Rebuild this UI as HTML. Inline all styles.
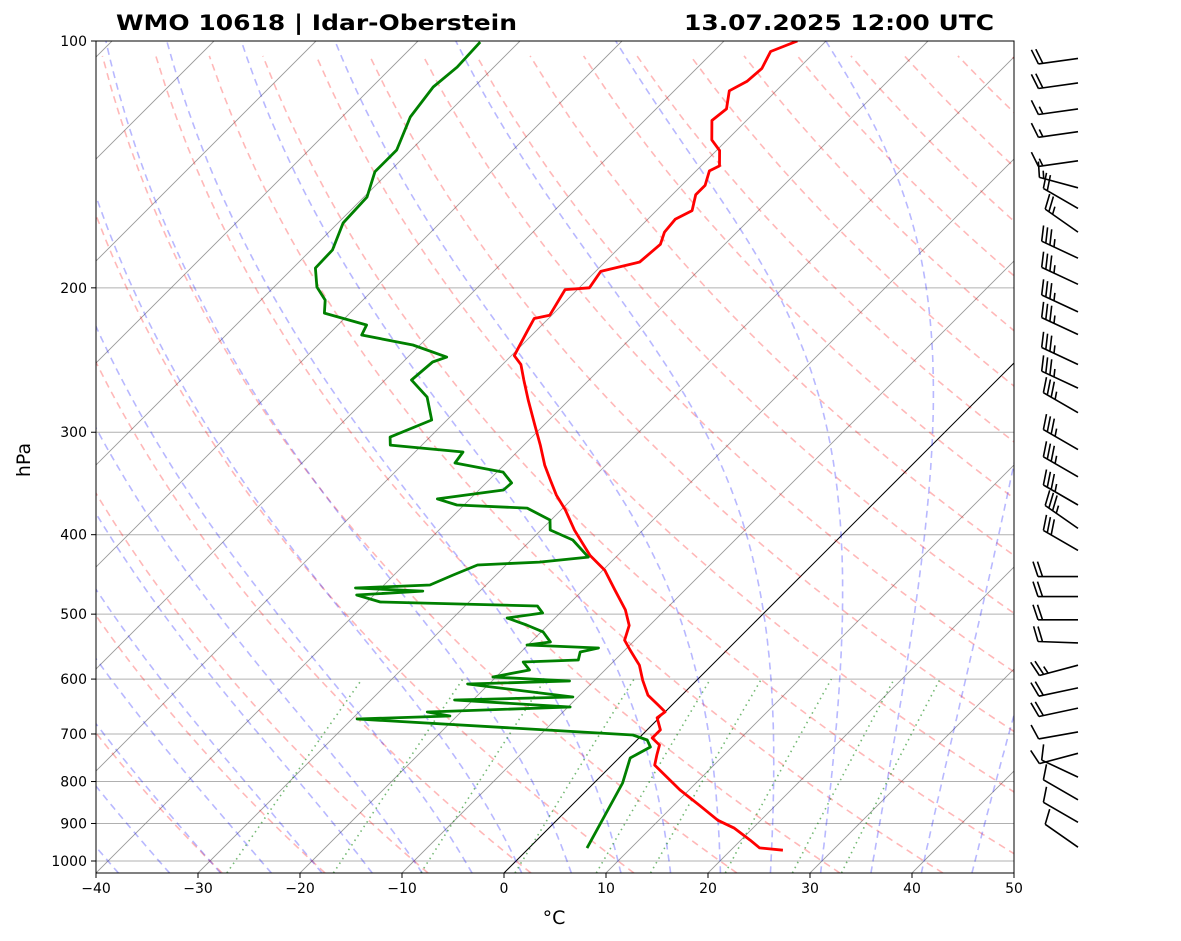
<!DOCTYPE html>
<html><head><meta charset="utf-8">
<style>
html,body{margin:0;padding:0;background:#fff;}
svg{display:block;font-family:"DejaVu Sans","Liberation Sans",sans-serif;}
</style></head>
<body>
<svg id="chart" width="1181" height="941" viewBox="0 0 1181 941" xmlns="http://www.w3.org/2000/svg">
<defs><clipPath id="plotclip"><rect x="96" y="41" width="918" height="832"/></clipPath></defs>
<rect x="0" y="0" width="1181" height="941" fill="#fff"/>
<g id="bg" clip-path="url(#plotclip)"></g>
<g id="profiles" clip-path="url(#plotclip)"></g>
<rect x="96" y="41" width="918" height="832" fill="none" stroke="#000" stroke-width="1"/>
<g id="axes"></g>
<g id="barbs"></g>
<text x="116" y="30" font-size="21" font-weight="bold" textLength="401" lengthAdjust="spacingAndGlyphs">WMO 10618 | Idar-Oberstein</text>
<text x="684" y="30" font-size="21" font-weight="bold" textLength="310" lengthAdjust="spacingAndGlyphs">13.07.2025 12:00 UTC</text>
<text x="30" y="460" font-size="19" text-anchor="middle" transform="rotate(-90 30 460)">hPa</text>
<text x="554" y="924" font-size="19" text-anchor="middle">°C</text>
</svg>
<script>
// ---- data ----
const tempP = [970,964,943,912,892,855,819,786,764,742,722,708,692,669,658,645,628,602,577,553,538,516,494,467,442,424,395,373,358,343,329,311,294,274,259,248,242,235,225,218,216,201,200,191,186,177,171,165,161,154,150,144,142,136,132,125,121,115,112,108,103,100];
const tempT = [25.1,22.6,20.9,18.2,15.8,12.5,9.1,6.2,4.2,3.4,2.7,1.3,1.3,-0.2,0.0,-1.4,-3.3,-5.3,-7.1,-9.5,-11.0,-12.0,-13.9,-16.9,-19.8,-22.7,-26.7,-29.6,-31.9,-34.0,-36.0,-38.4,-40.9,-44.0,-46.4,-48.2,-49.7,-50.2,-50.9,-51.4,-50.2,-51.2,-49.0,-49.5,-46.6,-46.3,-47.1,-47.3,-46.5,-47.7,-47.7,-48.7,-48.2,-49.7,-51.5,-53.4,-53.1,-54.6,-53.8,-53.6,-54.4,-52.8];
const dewP = [100.3,107.6,113.8,123.8,135.8,144.4,155.0,166.7,179.8,189.2,199.5,207,214.7,222,228.3,234.8,242.9,246.3,259.1,271.8,289.9,304.1,311,317.1,327.1,335.5,345.9,352.8,361.8,368.0,371.2,383.8,394.8,406.0,426.0,432.0,435.5,447.9,460.7,464.6,468.6,473.8,483.2,488.7,498.4,505.4,515.4,525.6,540.6,545.2,549.8,556.0,568.7,571.9,584.9,596.5,603.2,608.3,627.5,631.0,636.3,648.9,658.1,665.5,671.2,702.0,712.0,726.1,748.8,803.3,964.5];
const dewT = [-83.8,-83.6,-84.0,-83.3,-81.4,-81.4,-79.7,-79.5,-77.9,-77.8,-75.8,-73.7,-72.5,-67.2,-66.7,-60.7,-56.2,-57.1,-57.4,-54.2,-51.5,-53.9,-53.1,-45.3,-45.0,-39.4,-37.5,-37.6,-43.2,-40.7,-33.5,-30.1,-29.1,-25.9,-22.7,-27.0,-32.8,-34.2,-35.5,-42.5,-35.6,-41.7,-38.7,-22.9,-21.7,-24.7,-22.1,-19.8,-18.1,-20.1,-12.8,-14.2,-13.6,-18.8,-17.4,-20.3,-12.4,-22.1,-12.3,-10.5,-21.8,-9.8,-23.3,-20.7,-29.5,-0.9,1.0,2.0,1.1,2.8,5.7];
const barbP = [105,112.5,121,129,140,151,160,171,184,198,214,228,248,265,284,315,340,368,393,418,450,476,508,542,577,615,651,696,739,790,842,897,962];
const barbSpd = [20,20,15,15,15,15,20,25,35,35,35,35,35,35,35,35,35,35,35,30,20,20,20,20,25,20,20,10,10,10,10,10,10];
const barbDir = [262,262,262,262,262,285,300,305,295,295,295,295,295,295,300,300,300,300,305,300,270,270,270,272,255,258,258,260,255,295,300,300,305];
const pTicks = [100,200,300,400,500,600,700,800,900,1000];
const tTicks = [-40,-30,-20,-10,0,10,20,30,40,50];

// ---- axes functions ----
const X0=96, X1=1014, YT=41, YB=873, PXDEG=10.2, DEC=820;
function yOf(p){return YT + DEC*Math.log10(p/100);}
function xOf(T,p){const y=yOf(p);return X0+(T+40)*PXDEG+(YB-y);}
const PBOT = 100*Math.pow(10,(YB-YT)/DEC);
const NS="http://www.w3.org/2000/svg";
function mk(tag,attrs,parent){const e=document.createElementNS(NS,tag);for(const k in attrs)e.setAttribute(k,attrs[k]);parent.appendChild(e);return e;}
function pathFrom(pts){return pts.map((q,i)=>(i?'L':'M')+q[0].toFixed(1)+' '+q[1].toFixed(1)).join(' ');}
const bg=document.getElementById('bg'), prof=document.getElementById('profiles'), ax=document.getElementById('axes'), bb=document.getElementById('barbs');

pTicks.forEach(p=>{const y=yOf(p);
 const l=mk('line',{x1:X0,x2:X1,y1:y,y2:y,stroke:'#b0b0b0','stroke-width':1},bg);
 
 
});
for(let T=-140;T<=50;T+=10){
 const pts=[[xOf(T,PBOT),YB],[xOf(T,100),YT]];
 const l=mk('path',{d:pathFrom(pts),stroke:T===0?'#000':'#808080','stroke-width':T===0?1:0.9,fill:'none','stroke-opacity':T===0?1:0.8},bg);
 
 
}
for(let th=-30;th<200;th+=10){
 const pts=[];for(let p=PBOT;p>=95;p-=10){pts.push([xOf((th+273.15)*Math.pow(p/1000,0.2857)-273.15,p),yOf(p)]);}
 const l=mk('path',{d:pathFrom(pts),stroke:'#ff0000','stroke-opacity':0.28,'stroke-width':1.6,'stroke-dasharray':'7,5',fill:'none'},bg);
 
 
}
function es(Tc){return 6.112*Math.exp(17.67*Tc/(Tc+243.5));}
function dTdp(T,p){const Tc=T-273.15;const e=es(Tc);const rs=0.622*e/(p-e);return (287.04*T+2.501e6*rs)/(1005.7+2.501e6*2.501e6*rs*0.622/(287.04*T*T))/p;}
for(let t0=-40;t0<=45;t0+=5){
 const up=[];let T=t0+273.15;
 for(let p=1000;p>=95;p-=5){up.push([xOf(T-273.15,p),yOf(p)]);T-=dTdp(T,p)*5;}
 const dn=[];T=t0+273.15;
 for(let p=1000;p<=PBOT+5;p+=5){dn.push([xOf(T-273.15,p),yOf(p)]);T+=dTdp(T,p)*5;}
 const pts=dn.reverse().concat(up);
 const l=mk('path',{d:pathFrom(pts),stroke:'#0000ff','stroke-opacity':0.28,'stroke-width':1.6,'stroke-dasharray':'7,5',fill:'none'},bg);
 
 
}
[0.0004,0.001,0.002,0.004,0.007,0.01,0.016,0.024,0.032].forEach(w=>{
 const pts=[];for(let p=PBOT;p>=600;p-=10){const e=p*w/(0.622+w);const L=Math.log(e/6.112);pts.push([xOf(243.5*L/(17.67-L),p),yOf(p)]);}
 pts.push((()=>{const p=600,e=p*w/(0.622+w),L=Math.log(e/6.112);return [xOf(243.5*L/(17.67-L),p),yOf(p)];})());
 const l=mk('path',{d:pathFrom(pts),stroke:'#008000','stroke-opacity':0.55,'stroke-width':1.6,'stroke-dasharray':'1.5,4',fill:'none'},bg);
 
 
});
const tl=mk('path',{d:pathFrom(tempP.map((p,i)=>[xOf(tempT[i],p),yOf(p)])),stroke:'#ff0000','stroke-width':2.8,fill:'none','stroke-linejoin':'round'},prof);


const dl=mk('path',{d:pathFrom(dewP.map((p,i)=>[xOf(dewT[i],p),yOf(p)])),stroke:'#008000','stroke-width':2.8,fill:'none','stroke-linejoin':'round'},prof);


pTicks.forEach(p=>{const y=yOf(p);
 mk('line',{x1:X0-5,x2:X0,y1:y,y2:y,stroke:'#000','stroke-width':1},ax);
 const t=mk('text',{x:X0-9,y:y+5,'font-size':14,'text-anchor':'end'},ax);t.textContent=p;
 
 
});
tTicks.forEach(T=>{const x=X0+(T+40)*PXDEG;
 mk('line',{x1:x,x2:x,y1:YB,y2:YB+5,stroke:'#000','stroke-width':1},ax);
 const t=mk('text',{x:x,y:YB+20,'font-size':14,'text-anchor':'middle'},ax);t.textContent=(T<0?'\u2212'+(-T):T);
 
 
});
const BX=1078, LEN=40;
barbP.forEach((p,i)=>{
 const y=yOf(p), d=barbDir[i]*Math.PI/180;
 const u=[Math.sin(d),-Math.cos(d)], n=[-u[1],u[0]];
 const tip=[BX+LEN*u[0],y+LEN*u[1]];
 let s='M'+BX+' '+y.toFixed(1)+' L'+tip[0].toFixed(1)+' '+tip[1].toFixed(1);
 let spd=barbSpd[i], k=0;
 const full=Math.floor(spd/10), half=(spd%10)>=5?1:0;
 for(let j=0;j<full;j++){const st=[tip[0]-k*4.5*u[0],tip[1]-k*4.5*u[1]];
  s+=' M'+st[0].toFixed(1)+' '+st[1].toFixed(1)+' L'+(st[0]+15*n[0]+5*u[0]).toFixed(1)+' '+(st[1]+15*n[1]+5*u[1]).toFixed(1);k++;}
 if(half){if(k===0)k=1;const st=[tip[0]-k*4.5*u[0],tip[1]-k*4.5*u[1]];
  s+=' M'+st[0].toFixed(1)+' '+st[1].toFixed(1)+' L'+(st[0]+7.5*n[0]+2.5*u[0]).toFixed(1)+' '+(st[1]+7.5*n[1]+2.5*u[1]).toFixed(1);}
 const b=mk('path',{d:s,stroke:'#000','stroke-width':1.6,fill:'none'},bb);
 
 
});
</script>
</body></html>
